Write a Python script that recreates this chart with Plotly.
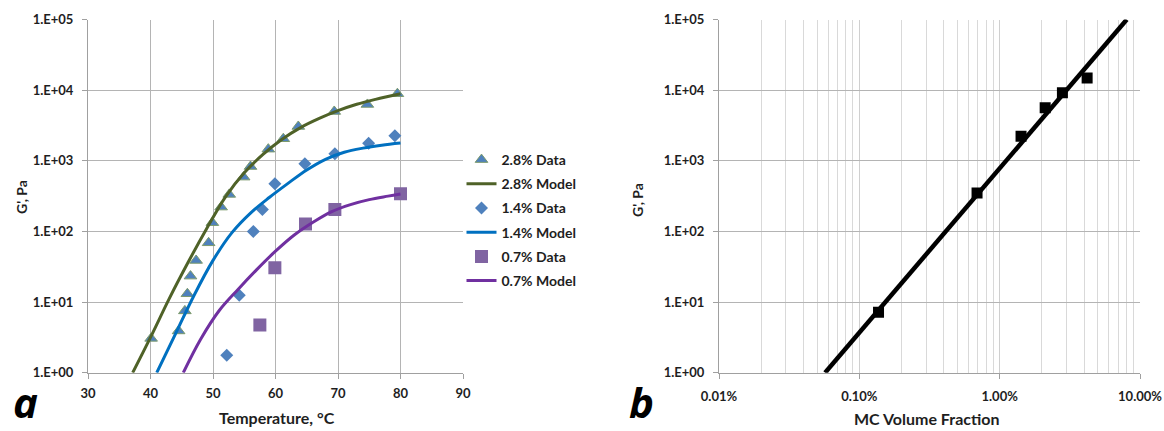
import plotly.graph_objects as go

# ---------------- data: panel a ----------------
t28_data = [40.1, 44.5, 45.5, 45.9, 46.4, 47.3, 49.3, 49.9, 51.3, 52.6, 54.9, 56.0, 58.85, 61.25, 63.65, 69.4, 74.7, 79.5]
g28_data = [3.06, 3.9, 7.5, 13.1, 23.3, 38.8, 69, 133, 221, 334, 587, 830, 1460, 2050, 3060, 4990, 6270, 8900]

t14_data = [52.2, 54.2, 56.45, 57.9, 59.9, 64.7, 69.5, 74.9, 79.1]
g14_data = [1.76, 12.5, 100, 205, 473, 908, 1257, 1775, 2260]

t07_data = [57.5, 59.9, 64.8, 69.5, 80.0]
g07_data = [4.72, 30.6, 127, 205, 341]

t28_model = [37.15, 40, 43, 46, 49, 52, 55, 58, 61, 64, 67, 70, 73, 76, 80]
g28_model = [1.0, 3.16, 11.2, 36.3, 110, 309, 676, 1230, 2000, 2950, 3980, 5130, 6310, 7410, 8910]

t14_model = [41.0, 44, 47, 50, 53, 56, 59, 62, 65, 68, 71, 74, 77, 80]
g14_model = [1.0, 3.55, 12.6, 38.9, 95.5, 182, 302, 479, 741, 1050, 1320, 1510, 1660, 1780]

t07_model = [45.25, 48, 51, 54, 57, 60, 63, 66, 69, 72, 75, 78, 80]
g07_model = [1.0, 2.95, 7.59, 15.1, 28.8, 52.5, 89.1, 135, 191, 240, 282, 316, 339]

# ---------------- data: panel b ----------------
frac_data = [0.00137, 0.0069, 0.0142, 0.0211, 0.028, 0.042]
gb_data = [7.2, 351, 2220, 5610, 9160, 14900]
frac_model = [0.00057, 0.0805]
gb_model = [1.0, 1.0e5]

y_tickvals = [1, 10, 100, 1000, 10000, 100000]
y_ticktext = ["1.E+00", "1.E+01", "1.E+02", "1.E+03", "1.E+04", "1.E+05"]
xa_tickvals = [30, 40, 50, 60, 70, 80, 90]
xb_tickvals = [0.0001, 0.001, 0.01, 0.1]
xb_ticktext = ["0.01%", "0.10%", "1.00%", "10.00%"]
xb_minor = [m * 10 ** e for e in (-4, -3, -2) for m in range(2, 10)]

FONT = "Lato"
TXT = "#1e1e1e"
GRID = "#b4b4b4"

fig = go.Figure()

# panel a traces
fig.add_trace(go.Scatter(x=t28_data, y=g28_data, mode="markers", name="2.8% Data", legendgroup="a1",
                         marker=dict(symbol="triangle-up", size=11, color="#4f81bd",
                                     line=dict(color="#7c9a6c", width=1)),
                         xaxis="x", yaxis="y"))
fig.add_trace(go.Scatter(x=t28_model, y=g28_model, mode="lines", name="2.8% Model", legendgroup="a2",
                         line=dict(color="#4f6228", width=3, shape="spline"),
                         xaxis="x", yaxis="y"))
fig.add_trace(go.Scatter(x=t14_data, y=g14_data, mode="markers", name="1.4% Data", legendgroup="a3",
                         marker=dict(symbol="diamond", size=10, color="#4f81bd"),
                         xaxis="x", yaxis="y"))
fig.add_trace(go.Scatter(x=t14_model, y=g14_model, mode="lines", name="1.4% Model", legendgroup="a4",
                         line=dict(color="#0070c0", width=3, shape="spline"),
                         xaxis="x", yaxis="y"))
fig.add_trace(go.Scatter(x=t07_data, y=g07_data, mode="markers", name="0.7% Data", legendgroup="a5",
                         marker=dict(symbol="square", size=13, color="#8064a2"),
                         xaxis="x", yaxis="y"))
fig.add_trace(go.Scatter(x=t07_model, y=g07_model, mode="lines", name="0.7% Model", legendgroup="a6",
                         line=dict(color="#7030a0", width=3, shape="spline"),
                         xaxis="x", yaxis="y"))

# panel b traces
fig.add_trace(go.Scatter(x=frac_model, y=gb_model, mode="lines", showlegend=False,
                         line=dict(color="black", width=4.5), xaxis="x2", yaxis="y2"))
fig.add_trace(go.Scatter(x=frac_data, y=gb_data, mode="markers", showlegend=False,
                         marker=dict(symbol="square", size=11, color="black"),
                         xaxis="x2", yaxis="y2"))

tickfont = dict(family=FONT, size=13, color=TXT, weight="bold")
ydom = [1 - 372.7 / 431, 1 - 19.5 / 431]

common_y = dict(type="log", range=[0, 5], tickvals=y_tickvals, ticktext=y_ticktext,
                showgrid=True, gridcolor=GRID, gridwidth=1, showline=True,
                linecolor="#a0a0a0", linewidth=1, ticks="outside", ticklen=5,
                tickcolor="#a0a0a0", tickfont=tickfont, zeroline=False, domain=ydom,
                ticklabelstandoff=6, automargin=False)

fig.update_layout(
    width=1164, height=431,
    margin=dict(l=0, r=0, t=0, b=0, autoexpand=False),
    paper_bgcolor="white", plot_bgcolor="white",
    showlegend=True,
    legend=dict(x=461.5 / 1164, y=1 - 144 / 431, xanchor="left", yanchor="top",
                font=dict(family=FONT, size=14, color=TXT, weight="bold"),
                bgcolor="rgba(0,0,0,0)", itemwidth=30, tracegroupgap=3),
    xaxis=dict(domain=[88 / 1164, 463 / 1164], range=[30, 90], tickvals=xa_tickvals,
               showgrid=True, gridcolor=GRID, showline=True, linecolor="#a0a0a0",
               ticks="outside", ticklen=5, tickcolor="#a0a0a0", tickfont=tickfont,
               ticklabelstandoff=4, zeroline=False, anchor="y", automargin=False),
    yaxis=dict(anchor="x", **common_y),
    xaxis2=dict(domain=[719 / 1164, 1140 / 1164], type="log", range=[-4, -1],
                tickvals=xb_tickvals, ticktext=xb_ticktext,
                showgrid=True, gridcolor="#cfcfcf", showline=True, linecolor="#a0a0a0",
                ticks="outside", ticklen=5, tickcolor="#a0a0a0", tickfont=tickfont,
                ticklabelstandoff=7,
                minor=dict(tickvals=xb_minor, showgrid=True, gridcolor="#d9d9d9", ticks=""),
                zeroline=False, anchor="y2", automargin=False),
    yaxis2=dict(anchor="x2", **common_y),
)

title_font = dict(family=FONT, size=16, color=TXT, weight="bold")
fig.add_annotation(text="Temperature, °C", x=276.5 / 1164, y=1 - 417 / 431, xref="paper", yref="paper",
                   showarrow=False, font=title_font, xanchor="center", yanchor="middle")
fig.add_annotation(text="MC Volume Fraction", x=927 / 1164, y=1 - 418 / 431, xref="paper", yref="paper",
                   showarrow=False, font=title_font, xanchor="center", yanchor="middle")
yt_font = dict(family=FONT, size=14, color=TXT, weight="bold")
fig.add_annotation(text="G', Pa", x=21 / 1164, y=1 - 197 / 431, xref="paper", yref="paper",
                   showarrow=False, font=yt_font, textangle=-90, xanchor="center", yanchor="middle")
fig.add_annotation(text="G', Pa", x=637 / 1164, y=1 - 200 / 431, xref="paper", yref="paper",
                   showarrow=False, font=yt_font, textangle=-90, xanchor="center", yanchor="middle")

letter_font = dict(family="Open Sans", size=42, color="black", weight="bold", style="italic")
fig.add_annotation(text="a", x=25 / 1164, y=0, xref="paper", yref="paper",
                   showarrow=False, font=letter_font, xanchor="center", yanchor="bottom",
                   borderpad=0)
fig.add_annotation(text="b", x=641 / 1164, y=0, xref="paper", yref="paper",
                   showarrow=False, font=letter_font, xanchor="center", yanchor="bottom",
                   borderpad=0)

fig.write_html("out.html")
